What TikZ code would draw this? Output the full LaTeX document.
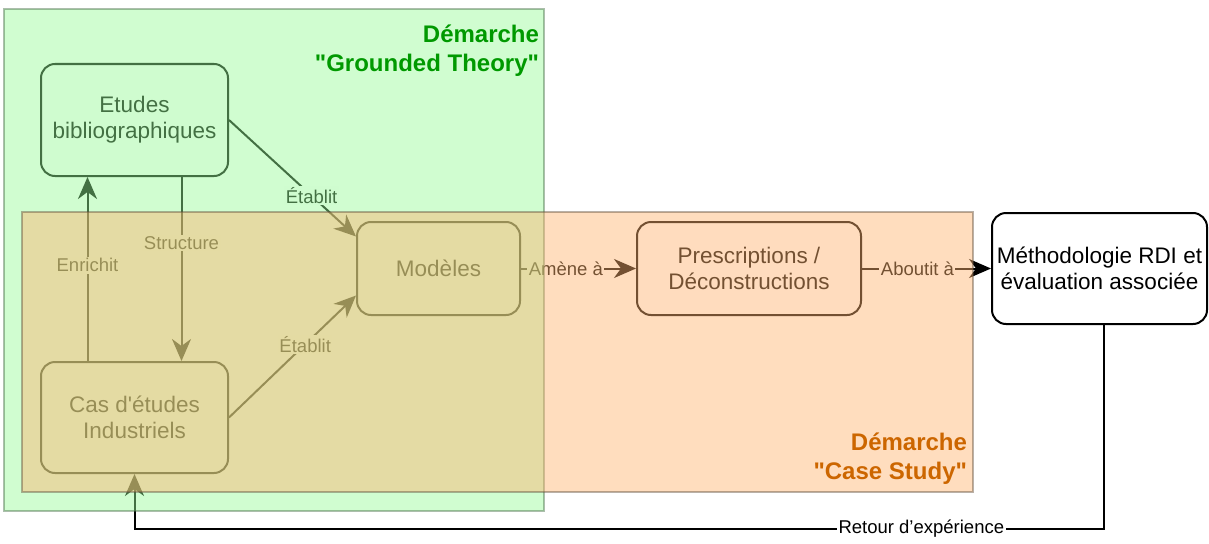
\documentclass[tikz,border=0pt]{standalone}
\usepackage{fontspec}
\setmainfont{Liberation Sans}
\usetikzlibrary{arrows.meta,positioning}

\definecolor{gtfill}{RGB}{150,250,150}
\definecolor{gtline}{RGB}{70,110,70}
\definecolor{gttitle}{RGB}{0,153,0}
\definecolor{csfill}{RGB}{255,179,111}
\definecolor{csline}{RGB}{100,80,60}
\definecolor{cstitle}{RGB}{204,102,0}

\begin{document}
\begin{tikzpicture}[x=1pt, y=-1pt, line width=2pt]

		\useasboundingbox (0,0) rectangle (1209,543);

		\tikzstyle{box}=[draw=black, fill=white, rounded corners=14pt, align=center, font=\fontsize{22.5}{26}\selectfont]
		\tikzstyle{lbl}=[fill=white, inner sep=1.5pt, font=\fontsize{18.5}{21}\selectfont]
		\tikzstyle{arr}=[-{Stealth[length=22pt,width=19pt,inset=7pt]}]
		\tikzstyle{zone}=[draw, line width=2pt, opacity=0.45, inner sep=0pt]
		\tikzstyle{title}=[anchor=east, align=right, inner sep=0pt, font=\bfseries\fontsize{24}{29}\selectfont]

		% Blocks
		\node[box, minimum width=187pt, minimum height=112pt] (etudes) at (134.5,120) {Etudes\\bibliographiques};
		\node[box, minimum width=187pt, minimum height=111pt] (cas) at (134.5,417.5) {Cas d\textquotesingle études\\Industriels};
		\node[box, minimum width=163pt, minimum height=93pt] (modeles) at (438.5,268.5) {Modèles};
		\node[box, minimum width=224pt, minimum height=93pt] (prescr) at (749,268.5) {Prescriptions /\\Déconstructions};
		\node[box, minimum width=215pt, minimum height=111pt] (methodo) at (1099.5,268.5) {Méthodologie RDI et\\évaluation associée};

		% Links
		\path (etudes.east) edge[arr] node[lbl, pos=0.65] {Établit} ([yshift=32pt]modeles.west);
		\path (cas.east) edge[arr] node[lbl, pos=0.6] {Établit} ([yshift=-27pt]modeles.west);
		\path ([xshift=47pt]etudes.south) edge[arr] node[lbl, pos=0.36] {Structure} ([xshift=47pt]cas.north);
		\path ([xshift=-47pt]cas.north) edge[arr] node[lbl, pos=0.52] {Enrichit} ([xshift=-47pt]etudes.south);
		\path (modeles.east) edge[arr] node[lbl, pos=0.39] {Amène à} (prescr.west);
		\path (prescr.east) edge[arr] node[lbl, pos=0.43] {Aboutit à} (methodo.west);

		% Feedback loop
		\coordinate (back) at (0,529);
		\draw[arr] ([xshift=4pt]methodo.south) |- (cas.south |- back) node[lbl, pos=0.594] {Retour d’expérience} -- (cas.south);

		% Approaches (transparent overlays)
		\node[zone, draw=gtline, fill=gtfill, minimum width=540pt, minimum height=502pt] (gt) at (274,260) {};
		\node[zone, draw=csline, fill=csfill, minimum width=951pt, minimum height=280pt] (cs) at (497.5,352) {};

		\node[title, text=gttitle] (gttext) at ([shift={(-5,43)}]gt.north east) {Démarche\\\textquotedbl Grounded Theory\textquotedbl};
		\node[title, text=cstitle] (cstext) at ([shift={(-6,-34.5)}]cs.south east) {Démarche\\\textquotedbl Case Study\textquotedbl};

\end{tikzpicture}
\end{document}
